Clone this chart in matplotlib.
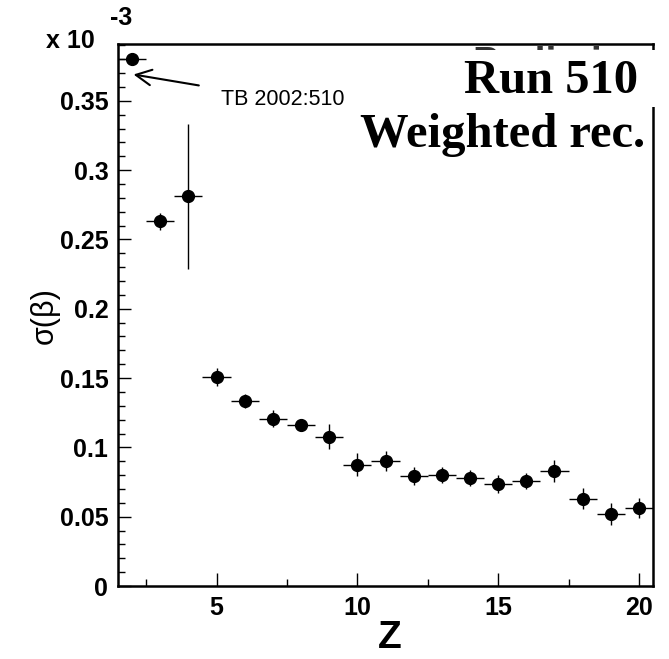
import numpy as np
import matplotlib.pyplot as plt
import matplotlib.ticker as mticker
from matplotlib.patches import Rectangle

# sigma(beta) per charge Z, in units of 1e-3
z_vals = [2, 3, 4, 5, 6, 7, 8, 9, 10, 11, 12, 13, 14, 15, 16, 17, 18, 19, 20]
sigma_beta = [0.3805, 0.263, 0.281, 0.151, 0.1336, 0.1208, 0.1165, 0.1078, 0.0876, 0.0905,
              0.0794, 0.0801, 0.0780, 0.0736, 0.0758, 0.0830, 0.0628, 0.0520, 0.0563]
sigma_err = [0.003, 0.006, 0.052, 0.0065, 0.005, 0.0063, 0.0036, 0.0093, 0.0084, 0.0072,
             0.0065, 0.006, 0.006, 0.0065, 0.006, 0.008, 0.0076, 0.008, 0.007]
z_halfwidth = [0.5] * len(z_vals)

sans = ["Liberation Sans", "DejaVu Sans"]
plt.rcParams["font.family"] = sans

W, H = 669, 659
fig = plt.figure(figsize=(W / 100, H / 100), dpi=100)
ax = fig.add_axes([118 / W, 1 - 586 / H, (653 - 118) / W, (586 - 44) / H])

ax.errorbar(z_vals, sigma_beta, yerr=sigma_err, xerr=z_halfwidth, fmt="o", color="black",
            markersize=8.5, ecolor="black", elinewidth=1.0, capsize=0, zorder=3)

ax.set_xlim(1.5, 20.5)
ax.set_ylim(0, 0.391)

ax.xaxis.set_major_locator(mticker.MultipleLocator(5))
ax.xaxis.set_minor_locator(mticker.MultipleLocator(2.5))
ax.yaxis.set_major_locator(mticker.MultipleLocator(0.05))
ax.yaxis.set_minor_locator(mticker.MultipleLocator(0.01))
ax.yaxis.set_major_formatter(mticker.FuncFormatter(lambda v, _: f"{v:g}"))

ax.tick_params(which="both", direction="in", top=False, right=False, width=1.0,
               labelsize=18, pad=7)
ax.tick_params(which="major", length=9.5)
ax.tick_params(which="minor", length=5)
for lab in ax.get_xticklabels() + ax.get_yticklabels():
    lab.set_fontweight("bold")
for sp in ax.spines.values():
    sp.set_linewidth(1.8)

# axis labels
fig.text(390 / W, 1 - 638 / H, "Z", fontsize=28, fontweight="bold", ha="center", va="center")
fig.text(45 / W, 1 - 316 / H, "σ(β)", fontsize=22, rotation=90, ha="center", va="center")

# exponent of the y scale
fig.text(95 / W, 1 - 48 / H, "x 10", fontsize=18, fontweight="bold", ha="right", va="baseline")
fig.text(110 / W, 1 - 25 / H, "-3", fontsize=18, fontweight="bold", ha="left", va="baseline")

# test-beam point annotation
ax.annotate("TB 2002:510", xy=(2.05, 0.369), xytext=(5.15, 0.351), fontsize=15.5,
            ha="left", va="center",
            arrowprops=dict(arrowstyle="->", color="black", lw=1.5,
                            mutation_scale=28, shrinkA=14, shrinkB=0))

# run label, partly hiding the text under it
fig.text(578 / W, 1 - 46 / H, "Preliminary", fontsize=28, fontweight="bold", color="#333333",
         ha="center", va="top", zorder=1)
fig.patches.append(Rectangle((440 / W, 1 - 107 / H), (W - 440) / W, (107 - 50) / H,
                             transform=fig.transFigure, facecolor="white", edgecolor="none",
                             zorder=5))
serif = ["Liberation Serif", "DejaVu Serif"]
fig.text(638 / W, 1 - 93 / H, "Run 510", fontsize=35, fontweight="bold", family=serif,
         ha="right", va="baseline", zorder=6)
fig.text(645 / W, 1 - 147 / H, "Weighted rec.", fontsize=35, fontweight="bold", family=serif,
         ha="right", va="baseline", zorder=6)

plt.savefig("out.png", dpi=100)
